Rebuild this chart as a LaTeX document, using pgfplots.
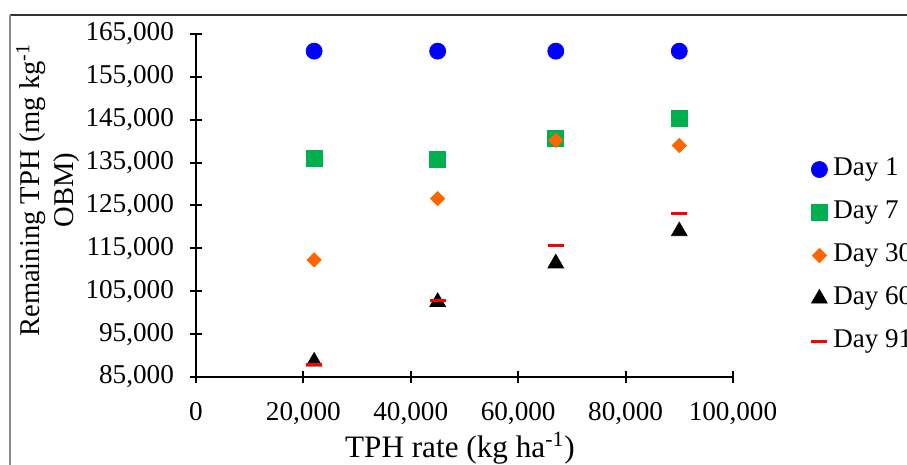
\documentclass[border=0pt]{standalone}
\usepackage{fontspec}
\setmainfont{Liberation Serif}
\usepackage{pgfplots}
\pgfplotsset{compat=1.18}
\definecolor{dayone}{RGB}{0,0,255}
\definecolor{dayseven}{RGB}{0,176,80}
\definecolor{daythirty}{RGB}{255,102,0}
\definecolor{dayninety}{RGB}{255,0,0}
\pgfplotsset{dot/.style={only marks,
  legend image code/.code={\draw[mark repeat=2,mark phase=2,##1] plot coordinates {(0pt,0pt)(4pt,0pt)(8pt,0pt)};}}}

\begin{document}
\begin{tikzpicture}
\begin{axis}[
  at={(0,0)}, anchor=south west,
  scale only axis, width=268.5pt, height=171.5pt,
  xmin=0, xmax=100000, ymin=85000, ymax=165000,
  axis x line=bottom, axis y line=left,
  axis line style={-, line width=1pt},
  xtick={0,20000,40000,60000,80000,100000},
  ytick={85000,95000,105000,115000,125000,135000,145000,155000,165000},
  tick align=center, major tick length=6pt,
  tick style={black, line width=1pt},
  scaled ticks=false,
  /pgf/number format/fixed,
  /pgf/number format/assume math mode=true,
  /pgf/number format/1000 sep={,},
  font=\fontsize{13.6}{16}\selectfont,
  yticklabel style={xshift=-4.5pt},
  xticklabel style={yshift=-6pt},
  xlabel={TPH rate (kg ha\textsuperscript{-1})},
  ylabel={Remaining TPH (mg kg\textsuperscript{-1}\\OBM)},
  every axis x label/.style={at={(axis description cs:0.4916,0)}, anchor=center, yshift=-35.5pt,
    font=\fontsize{15.6}{18}\selectfont},
  every axis y label/.style={at={(axis description cs:-0.2756,0.545)}, rotate=90, anchor=center, align=center,
    font=\fontsize{14.3}{17}\selectfont},
  legend style={at={(axis description cs:1.1453,0.641)}, anchor=north west, draw=none, fill=none,
    inner sep=0pt, row sep=9.5pt, column sep=3pt, font=\fontsize{13.5}{16}\selectfont,
    nodes={text height=9pt, text depth=3pt, inner sep=0pt}},
  legend cell align=left,
]
\addplot[dot, mark=*, mark size=4pt, color=dayone] coordinates {(22000,161000) (45000,161000) (67000,161000) (90000,161000)};
\addlegendentry{Day 1}
\addplot[dot, mark=square*, mark size=4pt, color=dayseven] coordinates {(22000,136100) (45000,135700) (67000,140600) (90000,145200)};
\addlegendentry{Day 7}
\addplot[dot, mark=square*, mark size=2.5pt, mark options={rotate=45}, color=daythirty] coordinates {(22000,112300) (45000,126600) (67000,140200) (90000,139000)};
\addlegendentry{Day 30}
\addplot[dot, mark=triangle*, mark size=4.5pt, color=black] coordinates {(22000,88600) (45000,102500) (67000,111500) (90000,119000)};
\addlegendentry{Day 60}
\addplot[dot, mark=-, mark size=4pt, mark options={line width=1.5pt}, color=dayninety] coordinates {(22000,87800) (45000,102800) (67000,115700) (90000,123200)};
\addlegendentry{Day 91}
\end{axis}
\begin{scope}[x=0.5pt, y=-0.5pt, shift={(-98pt,188.5pt)}]
  \draw[black!80, line width=0.8pt] (10,15) -- (915,15);
  \draw[black!45, line width=0.8pt] (10,15) -- (10,470);
  \pgfresetboundingbox
  \useasboundingbox (0,0) rectangle (907,465);
\end{scope}
\end{tikzpicture}
\end{document}
